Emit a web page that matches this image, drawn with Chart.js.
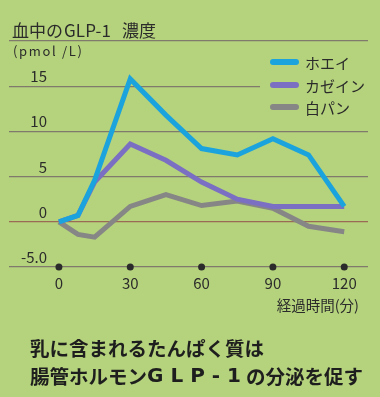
<!DOCTYPE html>
<html>
<head>
<meta charset="utf-8">
<script src="https://cdn.jsdelivr.net/npm/chart.js@4.4.1/dist/chart.umd.min.js"></script>
<style>
  html, body { margin: 0; padding: 0; background: #b5d37c; }
  #wrap { width: 380px; height: 397px; }
</style>
</head>
<body>
<div id="wrap"><canvas id="glpChart" width="380" height="397"></canvas></div>
<script>
"use strict"

// data
const minutes = [0, 8, 15, 30, 45, 60, 75, 90, 105, 120];
const whey = [0, 0.7, 4.6, 15.8, 11.8, 8.1, 7.4, 9.2, 7.4, 1.7];
const casein = [0, 0.7, 4.4, 8.6, 6.8, 4.4, 2.5, 1.7, 1.7, 1.7];
const bread = [0, -1.4, -1.7, 1.7, 3.0, 1.8, 2.3, 1.5, -0.5, -1.1];
const seriesNames = ["ホエイ", "カゼイン", "白パン"];
const xTicks = [0, 30, 60, 90, 120];
const yTicks = [-5, 0, 5, 10, 15, 20];
const yTickLabels = ["-5.0", "0", "5", "10", "15", ""];

const bgColor = "#b5d37c";
const textColor = "#2b2b2b";
const lineColors = ["#1ba3dd", "#7a6fc2", "#868686"];
const font = "'Noto Sans CJK JP', 'Noto Sans', sans-serif";

function toPoints(values) {
  return minutes.map((m, i) => ({ x: m, y: values[i] }));
}

// write a text spread so it fills a given width
function spreadText(ctx, text, x, y, width) {
  ctx.letterSpacing = "0px";
  const natural = ctx.measureText(text).width;
  const gap = Math.max(0, (width - natural) / Math.max(1, text.length - 1));
  ctx.letterSpacing = gap + "px";
  ctx.fillText(text, x, y);
  ctx.letterSpacing = "0px";
}

//plugin for the texts, dots and legend
const decorPlugin = {
  id: "decor",
  beforeDraw(chart) {
    const ctx = chart.ctx;
    ctx.save();
    ctx.fillStyle = bgColor;
    ctx.fillRect(0, 0, chart.width, chart.height);
    ctx.restore();
  },
  beforeDatasetsDraw(chart) {
    // legend covers the end of the 15 line
    const ctx = chart.ctx;
    ctx.save();
    ctx.fillStyle = bgColor;
    ctx.fillRect(260, 52, 115, 64);
    ctx.restore();
  },
  afterDraw(chart) {
    const ctx = chart.ctx;
    const xs = chart.scales.x;
    const ys = chart.scales.y;
    ctx.save();
    ctx.fillStyle = textColor;

    // title
    ctx.textAlign = "left";
    ctx.textBaseline = "alphabetic";
    ctx.font = "17px " + font;
    ctx.fillText("血中の", 12, 37);
    spreadText(ctx, "GLP-1", 64, 37, 47);
    ctx.fillText("濃度", 122, 37);
    ctx.font = "13px " + font;
    spreadText(ctx, "(pmol /L)", 13, 56, 69);

    // y tick labels
    ctx.font = "15px " + font;
    ctx.textAlign = "right";
    yTicks.forEach((v, i) => {
      if (yTickLabels[i] === "") return;
      ctx.fillText(yTickLabels[i], 47, ys.getPixelForValue(v) - 4);
    });

    // x dots and labels
    const baseY = ys.getPixelForValue(-5);
    ctx.textAlign = "center";
    xTicks.forEach(t => {
      const px = xs.getPixelForValue(t);
      ctx.beginPath();
      ctx.arc(px, baseY, 3.5, 0, Math.PI * 2);
      ctx.fill();
      ctx.fillText(String(t), px, baseY + 22);
    });
    ctx.font = "14.5px " + font;
    ctx.textAlign = "right";
    ctx.fillText("経過時間(分)", 359, 311);

    // legend
    ctx.lineCap = "round";
    ctx.lineWidth = 6;
    ctx.font = "15px " + font;
    ctx.textAlign = "left";
    ctx.textBaseline = "middle";
    const legendY = [62, 85, 107];
    seriesNames.forEach((name, i) => {
      ctx.strokeStyle = lineColors[i];
      ctx.beginPath();
      ctx.moveTo(273, legendY[i]);
      ctx.lineTo(296, legendY[i]);
      ctx.stroke();
      ctx.fillStyle = textColor;
      ctx.fillText(name, 305, legendY[i] + 1);
    });

    // caption
    ctx.font = "bold 19.5px " + font;
    ctx.fillStyle = "#1e1e1e";
    ctx.fillText("乳に含まれるたんぱく質は", 30, 349);
    ctx.fillText("腸管ホルモン", 30, 377);
    ctx.font = "bold 20px 'DejaVu Sans', sans-serif";
    spreadText(ctx, "GLP-1", 147, 377, 94);
    ctx.font = "bold 19.5px " + font;
    ctx.fillText("の分泌を促す", 246, 377);
    ctx.restore();
  }
};

const ctx = document.getElementById("glpChart").getContext("2d");

const glpChart = new Chart(ctx, {
  type: "line",
  data: {
    datasets: [whey, casein, bread].map((values, i) => ({
      label: seriesNames[i],
      data: toPoints(values),
      borderColor: lineColors[i],
      borderWidth: 5,
      borderJoinStyle: "miter",
      pointRadius: 0,
      tension: 0,
      fill: false
    }))
  },
  options: {
    responsive: false,
    animation: false,
    layout: { padding: { left: 9, right: 12, top: 41, bottom: 130 } },
    plugins: { legend: { display: false }, tooltip: { enabled: false } },
    scales: {
      x: {
        type: "linear",
        display: false,
        min: -21,
        max: 130
      },
      y: {
        type: "linear",
        min: -5,
        max: 20,
        afterBuildTicks: axis => { axis.ticks = yTicks.map(v => ({ value: v })); },
        ticks: { display: false },
        border: { display: false },
        grid: {
          drawTicks: false,
          lineWidth: 1.2,
          color: c => c.tick && c.tick.value === 0 ? "#9b6a55" : "#7f7a6c"
        }
      }
    }
  },
  plugins: [decorPlugin]
});
</script>
</body>
</html>
